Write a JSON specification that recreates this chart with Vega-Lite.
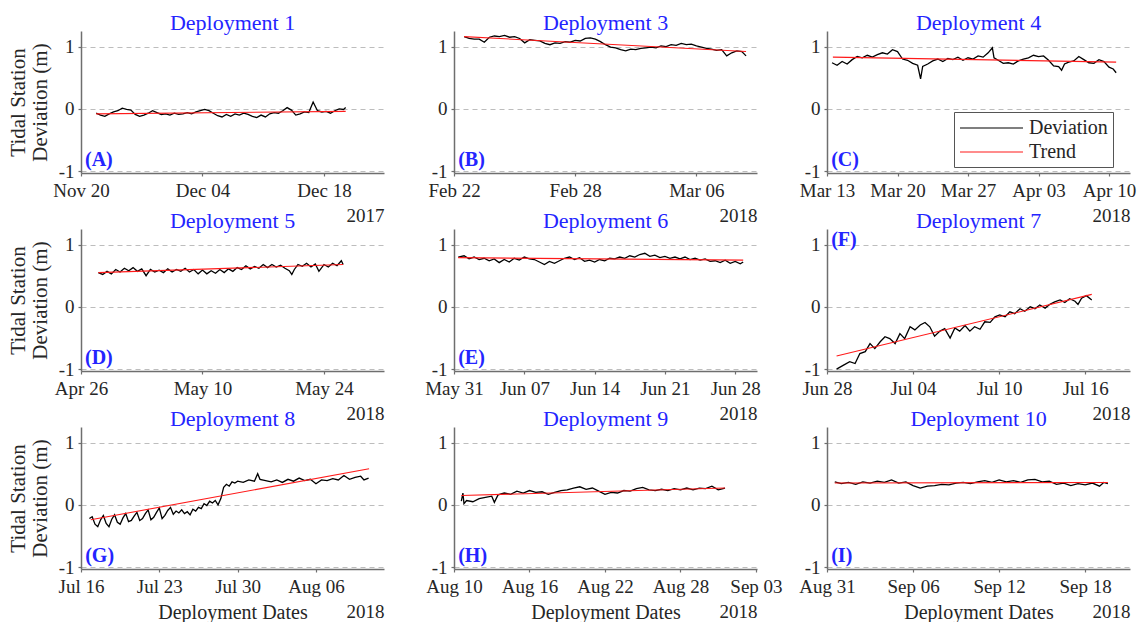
{
"$schema":"https://vega.github.io/schema/vega-lite/v6.json",
"padding":{"left":7,"top":12,"right":5,"bottom":5},
"config":{
 "view":{"stroke":null},
 "font":"Liberation Serif",
 "title":{"font":"Liberation Serif","fontSize":22,"fontWeight":"normal","color":"#2424ff","offset":-4,"baseline":"alphabetic","frame":"group","anchor":"middle"},
 "axis":{"labelFont":"Liberation Serif","labelFontSize":19,"labelColor":"#262626","titleFont":"Liberation Serif","titleFontWeight":"normal","titleColor":"#262626","domainColor":"#6e6e6e","domainWidth":1.5,"tickColor":"#6e6e6e","tickSize":3,"tickWidth":1.2},
 "axisX":{"grid":false,"labelFlush":false,"labelOverlap":false,"labelPadding":5,"titleFontSize":19,"titleAnchor":"end","titlePadding":6},
 "axisY":{"grid":true,"gridDash":[5,4],"gridColor":"#bdbdbd","gridWidth":1,"labelPadding":4,"titleFontSize":21,"titleLineHeight":22,"titlePadding":8},
 "legend":{"labelFont":"Liberation Serif","labelFontSize":20,"labelColor":"#262626","strokeColor":"#555555","fillColor":"white","padding":5,"rowPadding":3,"symbolType":"M-1,0L5.3,0","symbolSize":400,"symbolStrokeWidth":1.2,"labelOffset":48},
 "line":{"strokeWidth":1.1},
 "text":{"font":"Liberation Serif","fontSize":20,"fontWeight":"bold","color":"#2424ff","align":"left","baseline":"middle"}
},
"datasets":{
"labels":[{"p":1,"label":"(A)"},{"p":2,"label":"(B)"},{"p":3,"label":"(C)"},{"p":4,"label":"(D)"},{"p":5,"label":"(E)"},{"p":6,"label":"(F)"},{"p":7,"label":"(G)"},{"p":8,"label":"(H)"},{"p":9,"label":"(I)"}],
"trend":[
{"p":1,"t":"2017-11-21T18:00","v":-0.08},{"p":1,"t":"2017-12-20T12:00","v":-0.04},
{"p":2,"t":"2018-02-22T12:00","v":1.16},{"p":2,"t":"2018-03-08T11:00","v":0.92},
{"p":3,"t":"2018-03-13T14:00","v":0.83},{"p":3,"t":"2018-04-10T17:00","v":0.75},
{"p":4,"t":"2018-04-28T00:00","v":0.55},{"p":4,"t":"2018-05-26T05:00","v":0.68},
{"p":5,"t":"2018-05-31T10:00","v":0.79},{"p":5,"t":"2018-06-28T19:00","v":0.75},
{"p":6,"t":"2018-06-28T16:00","v":-0.79},{"p":6,"t":"2018-07-16T11:00","v":0.20},
{"p":7,"t":"2018-07-16T21:00","v":-0.24},{"p":7,"t":"2018-08-10T18:00","v":0.58},
{"p":8,"t":"2018-08-10T14:00","v":0.15},{"p":8,"t":"2018-08-31T13:00","v":0.27},
{"p":9,"t":"2018-08-31T13:00","v":0.35},{"p":9,"t":"2018-09-19T14:00","v":0.36}
],
"dev":[
{"p":1,"t":"2017-11-21T18:00","v":-0.07},{"p":1,"t":"2017-11-22T06:00","v":-0.10},{"p":1,"t":"2017-11-22T18:00","v":-0.12},{"p":1,"t":"2017-11-23T06:00","v":-0.08},{"p":1,"t":"2017-11-23T18:00","v":-0.05},{"p":1,"t":"2017-11-24T06:00","v":-0.03},{"p":1,"t":"2017-11-24T18:00","v":0.01},{"p":1,"t":"2017-11-25T06:00","v":-0.01},{"p":1,"t":"2017-11-25T18:00","v":-0.02},{"p":1,"t":"2017-11-26T06:00","v":-0.09},{"p":1,"t":"2017-11-26T18:00","v":-0.12},{"p":1,"t":"2017-11-27T06:00","v":-0.10},{"p":1,"t":"2017-11-27T18:00","v":-0.07},{"p":1,"t":"2017-11-28T06:00","v":-0.03},{"p":1,"t":"2017-11-28T18:00","v":-0.06},{"p":1,"t":"2017-11-29T06:00","v":-0.09},{"p":1,"t":"2017-11-29T18:00","v":-0.08},{"p":1,"t":"2017-11-30T06:00","v":-0.10},{"p":1,"t":"2017-11-30T18:00","v":-0.07},{"p":1,"t":"2017-12-01T06:00","v":-0.09},{"p":1,"t":"2017-12-01T18:00","v":-0.08},{"p":1,"t":"2017-12-02T06:00","v":-0.06},{"p":1,"t":"2017-12-02T18:00","v":-0.08},{"p":1,"t":"2017-12-03T06:00","v":-0.05},{"p":1,"t":"2017-12-03T18:00","v":-0.03},{"p":1,"t":"2017-12-04T06:00","v":-0.01},{"p":1,"t":"2017-12-04T18:00","v":-0.03},{"p":1,"t":"2017-12-05T06:00","v":-0.07},{"p":1,"t":"2017-12-05T18:00","v":-0.11},{"p":1,"t":"2017-12-06T06:00","v":-0.13},{"p":1,"t":"2017-12-06T18:00","v":-0.09},{"p":1,"t":"2017-12-07T06:00","v":-0.12},{"p":1,"t":"2017-12-07T18:00","v":-0.08},{"p":1,"t":"2017-12-08T06:00","v":-0.10},{"p":1,"t":"2017-12-08T18:00","v":-0.07},{"p":1,"t":"2017-12-09T06:00","v":-0.09},{"p":1,"t":"2017-12-09T18:00","v":-0.12},{"p":1,"t":"2017-12-10T06:00","v":-0.14},{"p":1,"t":"2017-12-10T18:00","v":-0.10},{"p":1,"t":"2017-12-11T06:00","v":-0.13},{"p":1,"t":"2017-12-11T18:00","v":-0.08},{"p":1,"t":"2017-12-12T06:00","v":-0.06},{"p":1,"t":"2017-12-12T18:00","v":-0.07},{"p":1,"t":"2017-12-13T06:00","v":-0.03},{"p":1,"t":"2017-12-13T18:00","v":0.02},{"p":1,"t":"2017-12-14T06:00","v":-0.02},{"p":1,"t":"2017-12-14T18:00","v":-0.10},{"p":1,"t":"2017-12-15T06:00","v":-0.08},{"p":1,"t":"2017-12-15T18:00","v":-0.05},{"p":1,"t":"2017-12-16T06:00","v":-0.06},{"p":1,"t":"2017-12-16T18:00","v":0.11},{"p":1,"t":"2017-12-17T06:00","v":-0.03},{"p":1,"t":"2017-12-17T18:00","v":-0.05},{"p":1,"t":"2017-12-18T06:00","v":-0.04},{"p":1,"t":"2017-12-18T18:00","v":-0.07},{"p":1,"t":"2017-12-19T06:00","v":-0.03},{"p":1,"t":"2017-12-19T18:00","v":0.00},{"p":1,"t":"2017-12-20T06:00","v":-0.01},{"p":1,"t":"2017-12-20T12:00","v":0.02},
{"p":2,"t":"2018-02-22T12:00","v":1.16},{"p":2,"t":"2018-02-22T18:00","v":1.13},{"p":2,"t":"2018-02-23T00:00","v":1.12},{"p":2,"t":"2018-02-23T06:00","v":1.12},{"p":2,"t":"2018-02-23T12:00","v":1.07},{"p":2,"t":"2018-02-23T18:00","v":1.15},{"p":2,"t":"2018-02-24T00:00","v":1.17},{"p":2,"t":"2018-02-24T06:00","v":1.16},{"p":2,"t":"2018-02-24T12:00","v":1.18},{"p":2,"t":"2018-02-24T18:00","v":1.15},{"p":2,"t":"2018-02-25T00:00","v":1.16},{"p":2,"t":"2018-02-25T06:00","v":1.13},{"p":2,"t":"2018-02-25T12:00","v":1.06},{"p":2,"t":"2018-02-25T18:00","v":1.11},{"p":2,"t":"2018-02-26T00:00","v":1.10},{"p":2,"t":"2018-02-26T06:00","v":1.09},{"p":2,"t":"2018-02-26T12:00","v":1.05},{"p":2,"t":"2018-02-26T18:00","v":1.03},{"p":2,"t":"2018-02-27T00:00","v":1.06},{"p":2,"t":"2018-02-27T06:00","v":1.05},{"p":2,"t":"2018-02-27T12:00","v":1.08},{"p":2,"t":"2018-02-27T18:00","v":1.07},{"p":2,"t":"2018-02-28T00:00","v":1.10},{"p":2,"t":"2018-02-28T06:00","v":1.09},{"p":2,"t":"2018-02-28T12:00","v":1.13},{"p":2,"t":"2018-02-28T18:00","v":1.14},{"p":2,"t":"2018-03-01T00:00","v":1.12},{"p":2,"t":"2018-03-01T06:00","v":1.08},{"p":2,"t":"2018-03-01T12:00","v":1.03},{"p":2,"t":"2018-03-01T18:00","v":0.99},{"p":2,"t":"2018-03-02T00:00","v":0.98},{"p":2,"t":"2018-03-02T06:00","v":0.95},{"p":2,"t":"2018-03-02T12:00","v":0.93},{"p":2,"t":"2018-03-02T18:00","v":0.96},{"p":2,"t":"2018-03-03T00:00","v":0.95},{"p":2,"t":"2018-03-03T06:00","v":0.97},{"p":2,"t":"2018-03-03T12:00","v":0.98},{"p":2,"t":"2018-03-03T18:00","v":0.99},{"p":2,"t":"2018-03-04T00:00","v":0.98},{"p":2,"t":"2018-03-04T06:00","v":1.01},{"p":2,"t":"2018-03-04T12:00","v":1.00},{"p":2,"t":"2018-03-04T18:00","v":1.03},{"p":2,"t":"2018-03-05T00:00","v":1.02},{"p":2,"t":"2018-03-05T06:00","v":1.05},{"p":2,"t":"2018-03-05T12:00","v":1.03},{"p":2,"t":"2018-03-05T18:00","v":1.04},{"p":2,"t":"2018-03-06T00:00","v":1.01},{"p":2,"t":"2018-03-06T06:00","v":0.99},{"p":2,"t":"2018-03-06T12:00","v":0.97},{"p":2,"t":"2018-03-06T18:00","v":0.96},{"p":2,"t":"2018-03-07T00:00","v":0.94},{"p":2,"t":"2018-03-07T06:00","v":0.95},{"p":2,"t":"2018-03-07T12:00","v":0.85},{"p":2,"t":"2018-03-07T18:00","v":0.90},{"p":2,"t":"2018-03-08T00:00","v":0.93},{"p":2,"t":"2018-03-08T06:00","v":0.92},{"p":2,"t":"2018-03-08T11:00","v":0.85},
{"p":3,"t":"2018-03-13T12:00","v":0.74},{"p":3,"t":"2018-03-14T00:00","v":0.70},{"p":3,"t":"2018-03-14T12:00","v":0.76},{"p":3,"t":"2018-03-15T00:00","v":0.72},{"p":3,"t":"2018-03-15T12:00","v":0.79},{"p":3,"t":"2018-03-16T00:00","v":0.84},{"p":3,"t":"2018-03-16T12:00","v":0.82},{"p":3,"t":"2018-03-17T00:00","v":0.86},{"p":3,"t":"2018-03-17T12:00","v":0.83},{"p":3,"t":"2018-03-18T00:00","v":0.87},{"p":3,"t":"2018-03-18T12:00","v":0.90},{"p":3,"t":"2018-03-19T00:00","v":0.88},{"p":3,"t":"2018-03-19T12:00","v":0.95},{"p":3,"t":"2018-03-20T00:00","v":0.92},{"p":3,"t":"2018-03-20T12:00","v":0.80},{"p":3,"t":"2018-03-21T00:00","v":0.78},{"p":3,"t":"2018-03-21T12:00","v":0.73},{"p":3,"t":"2018-03-22T00:00","v":0.70},{"p":3,"t":"2018-03-22T07:00","v":0.48},{"p":3,"t":"2018-03-22T12:00","v":0.68},{"p":3,"t":"2018-03-23T00:00","v":0.72},{"p":3,"t":"2018-03-23T12:00","v":0.77},{"p":3,"t":"2018-03-24T00:00","v":0.80},{"p":3,"t":"2018-03-24T12:00","v":0.76},{"p":3,"t":"2018-03-25T00:00","v":0.81},{"p":3,"t":"2018-03-25T12:00","v":0.79},{"p":3,"t":"2018-03-26T00:00","v":0.83},{"p":3,"t":"2018-03-26T12:00","v":0.78},{"p":3,"t":"2018-03-27T00:00","v":0.82},{"p":3,"t":"2018-03-27T12:00","v":0.80},{"p":3,"t":"2018-03-28T00:00","v":0.85},{"p":3,"t":"2018-03-28T12:00","v":0.83},{"p":3,"t":"2018-03-29T00:00","v":0.90},{"p":3,"t":"2018-03-29T10:00","v":0.98},{"p":3,"t":"2018-03-29T14:00","v":0.82},{"p":3,"t":"2018-03-30T00:00","v":0.78},{"p":3,"t":"2018-03-30T12:00","v":0.73},{"p":3,"t":"2018-03-31T00:00","v":0.74},{"p":3,"t":"2018-03-31T12:00","v":0.72},{"p":3,"t":"2018-04-01T00:00","v":0.77},{"p":3,"t":"2018-04-01T12:00","v":0.80},{"p":3,"t":"2018-04-02T00:00","v":0.82},{"p":3,"t":"2018-04-02T12:00","v":0.86},{"p":3,"t":"2018-04-03T00:00","v":0.84},{"p":3,"t":"2018-04-03T12:00","v":0.85},{"p":3,"t":"2018-04-04T00:00","v":0.78},{"p":3,"t":"2018-04-04T12:00","v":0.69},{"p":3,"t":"2018-04-05T00:00","v":0.68},{"p":3,"t":"2018-04-05T07:00","v":0.62},{"p":3,"t":"2018-04-05T14:00","v":0.72},{"p":3,"t":"2018-04-06T00:00","v":0.75},{"p":3,"t":"2018-04-06T12:00","v":0.77},{"p":3,"t":"2018-04-07T00:00","v":0.84},{"p":3,"t":"2018-04-07T12:00","v":0.79},{"p":3,"t":"2018-04-08T00:00","v":0.74},{"p":3,"t":"2018-04-08T12:00","v":0.73},{"p":3,"t":"2018-04-09T00:00","v":0.79},{"p":3,"t":"2018-04-09T12:00","v":0.76},{"p":3,"t":"2018-04-10T00:00","v":0.67},{"p":3,"t":"2018-04-10T10:00","v":0.64},{"p":3,"t":"2018-04-10T17:00","v":0.58},
{"p":4,"t":"2018-04-28T00:00","v":0.55},{"p":4,"t":"2018-04-28T12:00","v":0.52},{"p":4,"t":"2018-04-29T00:00","v":0.57},{"p":4,"t":"2018-04-29T12:00","v":0.53},{"p":4,"t":"2018-04-30T00:00","v":0.60},{"p":4,"t":"2018-04-30T12:00","v":0.56},{"p":4,"t":"2018-05-01T00:00","v":0.62},{"p":4,"t":"2018-05-01T12:00","v":0.58},{"p":4,"t":"2018-05-02T00:00","v":0.63},{"p":4,"t":"2018-05-02T12:00","v":0.57},{"p":4,"t":"2018-05-03T00:00","v":0.61},{"p":4,"t":"2018-05-03T12:00","v":0.50},{"p":4,"t":"2018-05-04T00:00","v":0.60},{"p":4,"t":"2018-05-04T12:00","v":0.56},{"p":4,"t":"2018-05-05T00:00","v":0.59},{"p":4,"t":"2018-05-05T12:00","v":0.55},{"p":4,"t":"2018-05-06T00:00","v":0.61},{"p":4,"t":"2018-05-06T12:00","v":0.56},{"p":4,"t":"2018-05-07T00:00","v":0.60},{"p":4,"t":"2018-05-07T12:00","v":0.57},{"p":4,"t":"2018-05-08T00:00","v":0.62},{"p":4,"t":"2018-05-08T12:00","v":0.56},{"p":4,"t":"2018-05-09T00:00","v":0.60},{"p":4,"t":"2018-05-09T12:00","v":0.53},{"p":4,"t":"2018-05-10T00:00","v":0.59},{"p":4,"t":"2018-05-10T12:00","v":0.53},{"p":4,"t":"2018-05-11T00:00","v":0.58},{"p":4,"t":"2018-05-11T12:00","v":0.54},{"p":4,"t":"2018-05-12T00:00","v":0.60},{"p":4,"t":"2018-05-12T12:00","v":0.55},{"p":4,"t":"2018-05-13T00:00","v":0.61},{"p":4,"t":"2018-05-13T12:00","v":0.57},{"p":4,"t":"2018-05-14T00:00","v":0.63},{"p":4,"t":"2018-05-14T12:00","v":0.60},{"p":4,"t":"2018-05-15T00:00","v":0.66},{"p":4,"t":"2018-05-15T12:00","v":0.61},{"p":4,"t":"2018-05-16T00:00","v":0.65},{"p":4,"t":"2018-05-16T12:00","v":0.62},{"p":4,"t":"2018-05-17T00:00","v":0.68},{"p":4,"t":"2018-05-17T12:00","v":0.63},{"p":4,"t":"2018-05-18T00:00","v":0.68},{"p":4,"t":"2018-05-18T12:00","v":0.64},{"p":4,"t":"2018-05-19T00:00","v":0.67},{"p":4,"t":"2018-05-19T12:00","v":0.62},{"p":4,"t":"2018-05-20T00:00","v":0.58},{"p":4,"t":"2018-05-20T07:00","v":0.52},{"p":4,"t":"2018-05-20T14:00","v":0.60},{"p":4,"t":"2018-05-21T00:00","v":0.68},{"p":4,"t":"2018-05-21T12:00","v":0.65},{"p":4,"t":"2018-05-22T00:00","v":0.70},{"p":4,"t":"2018-05-22T12:00","v":0.64},{"p":4,"t":"2018-05-23T00:00","v":0.69},{"p":4,"t":"2018-05-23T10:00","v":0.57},{"p":4,"t":"2018-05-24T00:00","v":0.68},{"p":4,"t":"2018-05-24T12:00","v":0.64},{"p":4,"t":"2018-05-25T00:00","v":0.70},{"p":4,"t":"2018-05-25T12:00","v":0.66},{"p":4,"t":"2018-05-26T00:00","v":0.74},{"p":4,"t":"2018-05-26T05:00","v":0.68},
{"p":5,"t":"2018-05-31T10:00","v":0.80},{"p":5,"t":"2018-06-01T00:00","v":0.82},{"p":5,"t":"2018-06-01T12:00","v":0.77},{"p":5,"t":"2018-06-02T00:00","v":0.80},{"p":5,"t":"2018-06-02T12:00","v":0.76},{"p":5,"t":"2018-06-03T00:00","v":0.78},{"p":5,"t":"2018-06-03T12:00","v":0.74},{"p":5,"t":"2018-06-04T00:00","v":0.77},{"p":5,"t":"2018-06-04T12:00","v":0.71},{"p":5,"t":"2018-06-05T00:00","v":0.76},{"p":5,"t":"2018-06-05T12:00","v":0.72},{"p":5,"t":"2018-06-06T00:00","v":0.78},{"p":5,"t":"2018-06-06T12:00","v":0.75},{"p":5,"t":"2018-06-07T00:00","v":0.80},{"p":5,"t":"2018-06-07T12:00","v":0.77},{"p":5,"t":"2018-06-08T00:00","v":0.76},{"p":5,"t":"2018-06-08T12:00","v":0.72},{"p":5,"t":"2018-06-09T00:00","v":0.68},{"p":5,"t":"2018-06-09T12:00","v":0.73},{"p":5,"t":"2018-06-10T00:00","v":0.70},{"p":5,"t":"2018-06-10T12:00","v":0.74},{"p":5,"t":"2018-06-11T00:00","v":0.78},{"p":5,"t":"2018-06-11T12:00","v":0.80},{"p":5,"t":"2018-06-12T00:00","v":0.76},{"p":5,"t":"2018-06-12T12:00","v":0.79},{"p":5,"t":"2018-06-13T00:00","v":0.73},{"p":5,"t":"2018-06-13T12:00","v":0.75},{"p":5,"t":"2018-06-14T00:00","v":0.72},{"p":5,"t":"2018-06-14T12:00","v":0.76},{"p":5,"t":"2018-06-15T00:00","v":0.74},{"p":5,"t":"2018-06-15T12:00","v":0.78},{"p":5,"t":"2018-06-16T00:00","v":0.77},{"p":5,"t":"2018-06-16T12:00","v":0.80},{"p":5,"t":"2018-06-17T00:00","v":0.78},{"p":5,"t":"2018-06-17T12:00","v":0.82},{"p":5,"t":"2018-06-18T00:00","v":0.80},{"p":5,"t":"2018-06-18T12:00","v":0.84},{"p":5,"t":"2018-06-19T00:00","v":0.86},{"p":5,"t":"2018-06-19T12:00","v":0.81},{"p":5,"t":"2018-06-20T00:00","v":0.83},{"p":5,"t":"2018-06-20T12:00","v":0.79},{"p":5,"t":"2018-06-21T00:00","v":0.81},{"p":5,"t":"2018-06-21T12:00","v":0.78},{"p":5,"t":"2018-06-22T00:00","v":0.80},{"p":5,"t":"2018-06-22T12:00","v":0.77},{"p":5,"t":"2018-06-23T00:00","v":0.80},{"p":5,"t":"2018-06-23T12:00","v":0.76},{"p":5,"t":"2018-06-24T00:00","v":0.78},{"p":5,"t":"2018-06-24T12:00","v":0.75},{"p":5,"t":"2018-06-25T00:00","v":0.77},{"p":5,"t":"2018-06-25T12:00","v":0.73},{"p":5,"t":"2018-06-26T00:00","v":0.74},{"p":5,"t":"2018-06-26T12:00","v":0.71},{"p":5,"t":"2018-06-27T00:00","v":0.75},{"p":5,"t":"2018-06-27T12:00","v":0.70},{"p":5,"t":"2018-06-28T00:00","v":0.73},{"p":5,"t":"2018-06-28T12:00","v":0.69},{"p":5,"t":"2018-06-28T19:00","v":0.72},
{"p":6,"t":"2018-06-28T16:00","v":-1.0},{"p":6,"t":"2018-06-29T03:00","v":-0.94},{"p":6,"t":"2018-06-29T14:00","v":-0.88},{"p":6,"t":"2018-06-29T23:00","v":-0.91},{"p":6,"t":"2018-06-30T07:00","v":-0.75},{"p":6,"t":"2018-06-30T16:00","v":-0.72},{"p":6,"t":"2018-07-01T00:00","v":-0.59},{"p":6,"t":"2018-07-01T08:00","v":-0.67},{"p":6,"t":"2018-07-01T17:00","v":-0.56},{"p":6,"t":"2018-07-02T01:00","v":-0.48},{"p":6,"t":"2018-07-02T09:00","v":-0.51},{"p":6,"t":"2018-07-02T18:00","v":-0.59},{"p":6,"t":"2018-07-03T02:00","v":-0.43},{"p":6,"t":"2018-07-03T10:00","v":-0.51},{"p":6,"t":"2018-07-03T19:00","v":-0.32},{"p":6,"t":"2018-07-04T03:00","v":-0.37},{"p":6,"t":"2018-07-04T12:00","v":-0.29},{"p":6,"t":"2018-07-04T20:00","v":-0.25},{"p":6,"t":"2018-07-05T04:00","v":-0.32},{"p":6,"t":"2018-07-05T12:00","v":-0.47},{"p":6,"t":"2018-07-05T21:00","v":-0.39},{"p":6,"t":"2018-07-06T05:00","v":-0.35},{"p":6,"t":"2018-07-06T14:00","v":-0.50},{"p":6,"t":"2018-07-06T22:00","v":-0.34},{"p":6,"t":"2018-07-07T06:00","v":-0.39},{"p":6,"t":"2018-07-07T15:00","v":-0.30},{"p":6,"t":"2018-07-07T23:00","v":-0.39},{"p":6,"t":"2018-07-08T07:00","v":-0.32},{"p":6,"t":"2018-07-08T16:00","v":-0.36},{"p":6,"t":"2018-07-09T00:00","v":-0.24},{"p":6,"t":"2018-07-09T09:00","v":-0.25},{"p":6,"t":"2018-07-09T17:00","v":-0.16},{"p":6,"t":"2018-07-10T01:00","v":-0.13},{"p":6,"t":"2018-07-10T10:00","v":-0.16},{"p":6,"t":"2018-07-10T18:00","v":-0.08},{"p":6,"t":"2018-07-11T02:00","v":-0.11},{"p":6,"t":"2018-07-11T11:00","v":-0.03},{"p":6,"t":"2018-07-11T19:00","v":-0.07},{"p":6,"t":"2018-07-12T04:00","v":0.0},{"p":6,"t":"2018-07-12T12:00","v":-0.03},{"p":6,"t":"2018-07-12T20:00","v":0.03},{"p":6,"t":"2018-07-13T05:00","v":-0.02},{"p":6,"t":"2018-07-13T13:00","v":0.04},{"p":6,"t":"2018-07-13T21:00","v":0.08},{"p":6,"t":"2018-07-14T06:00","v":0.11},{"p":6,"t":"2018-07-14T14:00","v":0.07},{"p":6,"t":"2018-07-14T22:00","v":0.13},{"p":6,"t":"2018-07-15T07:00","v":0.09},{"p":6,"t":"2018-07-15T12:00","v":0.04},{"p":6,"t":"2018-07-15T18:00","v":0.14},{"p":6,"t":"2018-07-16T02:00","v":0.18},{"p":6,"t":"2018-07-16T11:00","v":0.11},
{"p":7,"t":"2018-07-16T18:00","v":-0.22},{"p":7,"t":"2018-07-17T00:00","v":-0.19},{"p":7,"t":"2018-07-17T06:00","v":-0.31},{"p":7,"t":"2018-07-17T12:00","v":-0.35},{"p":7,"t":"2018-07-17T18:00","v":-0.24},{"p":7,"t":"2018-07-18T00:00","v":-0.17},{"p":7,"t":"2018-07-18T06:00","v":-0.30},{"p":7,"t":"2018-07-18T12:00","v":-0.35},{"p":7,"t":"2018-07-18T18:00","v":-0.23},{"p":7,"t":"2018-07-19T00:00","v":-0.16},{"p":7,"t":"2018-07-19T06:00","v":-0.28},{"p":7,"t":"2018-07-19T12:00","v":-0.31},{"p":7,"t":"2018-07-19T18:00","v":-0.21},{"p":7,"t":"2018-07-20T00:00","v":-0.14},{"p":7,"t":"2018-07-20T06:00","v":-0.27},{"p":7,"t":"2018-07-20T12:00","v":-0.25},{"p":7,"t":"2018-07-20T18:00","v":-0.18},{"p":7,"t":"2018-07-21T00:00","v":-0.12},{"p":7,"t":"2018-07-21T06:00","v":-0.25},{"p":7,"t":"2018-07-21T12:00","v":-0.22},{"p":7,"t":"2018-07-21T18:00","v":-0.14},{"p":7,"t":"2018-07-22T00:00","v":-0.08},{"p":7,"t":"2018-07-22T06:00","v":-0.24},{"p":7,"t":"2018-07-22T12:00","v":-0.20},{"p":7,"t":"2018-07-22T18:00","v":-0.12},{"p":7,"t":"2018-07-23T00:00","v":-0.05},{"p":7,"t":"2018-07-23T06:00","v":-0.22},{"p":7,"t":"2018-07-23T12:00","v":-0.17},{"p":7,"t":"2018-07-23T18:00","v":-0.09},{"p":7,"t":"2018-07-24T00:00","v":-0.04},{"p":7,"t":"2018-07-24T06:00","v":-0.15},{"p":7,"t":"2018-07-24T12:00","v":-0.10},{"p":7,"t":"2018-07-24T18:00","v":-0.13},{"p":7,"t":"2018-07-25T00:00","v":-0.08},{"p":7,"t":"2018-07-25T06:00","v":-0.14},{"p":7,"t":"2018-07-25T12:00","v":-0.11},{"p":7,"t":"2018-07-25T18:00","v":-0.16},{"p":7,"t":"2018-07-26T00:00","v":-0.07},{"p":7,"t":"2018-07-26T06:00","v":-0.10},{"p":7,"t":"2018-07-26T12:00","v":-0.04},{"p":7,"t":"2018-07-26T18:00","v":-0.06},{"p":7,"t":"2018-07-27T00:00","v":0.02},{"p":7,"t":"2018-07-27T06:00","v":-0.01},{"p":7,"t":"2018-07-27T12:00","v":0.06},{"p":7,"t":"2018-07-27T18:00","v":0.03},{"p":7,"t":"2018-07-28T00:00","v":0.07},{"p":7,"t":"2018-07-28T06:00","v":0.00},{"p":7,"t":"2018-07-28T12:00","v":0.10},{"p":7,"t":"2018-07-28T18:00","v":0.28},{"p":7,"t":"2018-07-29T00:00","v":0.33},{"p":7,"t":"2018-07-29T06:00","v":0.30},{"p":7,"t":"2018-07-29T12:00","v":0.37},{"p":7,"t":"2018-07-29T18:00","v":0.35},{"p":7,"t":"2018-07-30T00:00","v":0.38},{"p":7,"t":"2018-07-30T12:00","v":0.36},{"p":7,"t":"2018-07-31T00:00","v":0.40},{"p":7,"t":"2018-07-31T12:00","v":0.38},{"p":7,"t":"2018-07-31T19:00","v":0.50},{"p":7,"t":"2018-08-01T00:00","v":0.41},{"p":7,"t":"2018-08-01T12:00","v":0.39},{"p":7,"t":"2018-08-02T00:00","v":0.37},{"p":7,"t":"2018-08-02T12:00","v":0.40},{"p":7,"t":"2018-08-03T00:00","v":0.36},{"p":7,"t":"2018-08-03T12:00","v":0.41},{"p":7,"t":"2018-08-04T00:00","v":0.38},{"p":7,"t":"2018-08-04T12:00","v":0.43},{"p":7,"t":"2018-08-05T00:00","v":0.39},{"p":7,"t":"2018-08-05T12:00","v":0.41},{"p":7,"t":"2018-08-06T00:00","v":0.34},{"p":7,"t":"2018-08-06T12:00","v":0.40},{"p":7,"t":"2018-08-07T00:00","v":0.39},{"p":7,"t":"2018-08-07T12:00","v":0.42},{"p":7,"t":"2018-08-08T00:00","v":0.40},{"p":7,"t":"2018-08-08T12:00","v":0.47},{"p":7,"t":"2018-08-09T00:00","v":0.41},{"p":7,"t":"2018-08-09T12:00","v":0.44},{"p":7,"t":"2018-08-10T00:00","v":0.46},{"p":7,"t":"2018-08-10T07:00","v":0.40},{"p":7,"t":"2018-08-10T17:00","v":0.43},
{"p":8,"t":"2018-08-10T14:00","v":0.06},{"p":8,"t":"2018-08-10T17:00","v":0.19},{"p":8,"t":"2018-08-10T19:00","v":0.02},{"p":8,"t":"2018-08-11T00:00","v":0.07},{"p":8,"t":"2018-08-11T12:00","v":0.05},{"p":8,"t":"2018-08-12T00:00","v":0.10},{"p":8,"t":"2018-08-12T12:00","v":0.12},{"p":8,"t":"2018-08-13T00:00","v":0.14},{"p":8,"t":"2018-08-13T05:00","v":0.04},{"p":8,"t":"2018-08-13T12:00","v":0.16},{"p":8,"t":"2018-08-14T00:00","v":0.19},{"p":8,"t":"2018-08-14T12:00","v":0.17},{"p":8,"t":"2018-08-15T00:00","v":0.22},{"p":8,"t":"2018-08-15T12:00","v":0.19},{"p":8,"t":"2018-08-16T00:00","v":0.23},{"p":8,"t":"2018-08-16T12:00","v":0.20},{"p":8,"t":"2018-08-17T00:00","v":0.21},{"p":8,"t":"2018-08-17T12:00","v":0.17},{"p":8,"t":"2018-08-18T00:00","v":0.20},{"p":8,"t":"2018-08-18T12:00","v":0.23},{"p":8,"t":"2018-08-19T00:00","v":0.24},{"p":8,"t":"2018-08-19T12:00","v":0.27},{"p":8,"t":"2018-08-20T00:00","v":0.29},{"p":8,"t":"2018-08-20T12:00","v":0.25},{"p":8,"t":"2018-08-21T00:00","v":0.27},{"p":8,"t":"2018-08-21T12:00","v":0.22},{"p":8,"t":"2018-08-22T00:00","v":0.17},{"p":8,"t":"2018-08-22T12:00","v":0.20},{"p":8,"t":"2018-08-23T00:00","v":0.19},{"p":8,"t":"2018-08-23T12:00","v":0.23},{"p":8,"t":"2018-08-24T00:00","v":0.22},{"p":8,"t":"2018-08-24T12:00","v":0.26},{"p":8,"t":"2018-08-25T00:00","v":0.28},{"p":8,"t":"2018-08-25T12:00","v":0.24},{"p":8,"t":"2018-08-26T00:00","v":0.23},{"p":8,"t":"2018-08-26T12:00","v":0.25},{"p":8,"t":"2018-08-27T00:00","v":0.23},{"p":8,"t":"2018-08-27T12:00","v":0.26},{"p":8,"t":"2018-08-28T00:00","v":0.24},{"p":8,"t":"2018-08-28T12:00","v":0.27},{"p":8,"t":"2018-08-29T00:00","v":0.24},{"p":8,"t":"2018-08-29T12:00","v":0.27},{"p":8,"t":"2018-08-30T00:00","v":0.26},{"p":8,"t":"2018-08-30T12:00","v":0.30},{"p":8,"t":"2018-08-31T00:00","v":0.24},{"p":8,"t":"2018-08-31T13:00","v":0.27},
{"p":9,"t":"2018-08-31T13:00","v":0.37},{"p":9,"t":"2018-09-01T00:00","v":0.34},{"p":9,"t":"2018-09-01T12:00","v":0.36},{"p":9,"t":"2018-09-02T00:00","v":0.33},{"p":9,"t":"2018-09-02T12:00","v":0.37},{"p":9,"t":"2018-09-03T00:00","v":0.35},{"p":9,"t":"2018-09-03T12:00","v":0.38},{"p":9,"t":"2018-09-04T00:00","v":0.36},{"p":9,"t":"2018-09-04T12:00","v":0.40},{"p":9,"t":"2018-09-05T00:00","v":0.35},{"p":9,"t":"2018-09-05T12:00","v":0.37},{"p":9,"t":"2018-09-06T00:00","v":0.31},{"p":9,"t":"2018-09-06T12:00","v":0.27},{"p":9,"t":"2018-09-07T00:00","v":0.30},{"p":9,"t":"2018-09-07T12:00","v":0.31},{"p":9,"t":"2018-09-08T00:00","v":0.33},{"p":9,"t":"2018-09-08T12:00","v":0.32},{"p":9,"t":"2018-09-09T00:00","v":0.35},{"p":9,"t":"2018-09-09T12:00","v":0.36},{"p":9,"t":"2018-09-10T00:00","v":0.34},{"p":9,"t":"2018-09-10T12:00","v":0.37},{"p":9,"t":"2018-09-11T00:00","v":0.39},{"p":9,"t":"2018-09-11T12:00","v":0.36},{"p":9,"t":"2018-09-12T00:00","v":0.40},{"p":9,"t":"2018-09-12T12:00","v":0.37},{"p":9,"t":"2018-09-13T00:00","v":0.39},{"p":9,"t":"2018-09-13T12:00","v":0.36},{"p":9,"t":"2018-09-14T00:00","v":0.40},{"p":9,"t":"2018-09-14T12:00","v":0.41},{"p":9,"t":"2018-09-15T00:00","v":0.37},{"p":9,"t":"2018-09-15T12:00","v":0.38},{"p":9,"t":"2018-09-16T00:00","v":0.33},{"p":9,"t":"2018-09-16T12:00","v":0.35},{"p":9,"t":"2018-09-17T00:00","v":0.31},{"p":9,"t":"2018-09-17T12:00","v":0.34},{"p":9,"t":"2018-09-18T00:00","v":0.32},{"p":9,"t":"2018-09-18T12:00","v":0.35},{"p":9,"t":"2018-09-19T00:00","v":0.30},{"p":9,"t":"2018-09-19T07:00","v":0.36},{"p":9,"t":"2018-09-19T14:00","v":0.34}
]},
"columns":3,
"spacing":{"row":56,"column":70},
"bounds":"flush",
"resolve":{"scale":{"color":"independent"},"legend":{"color":"independent"}},
"concat":[
{"width":303,"height":142,"title":"Deployment 1","layer":[
 {"data":{"name":"dev"},"transform":[{"filter":"datum.p==1"}],"mark":{"type":"line","color":"black","strokeWidth":1.3},"encoding":{
  "x":{"field":"t","type":"temporal","scale":{"nice":false,"domain":[{"year":2017,"month":11,"date":20},{"year":2017,"month":12,"date":24,"hours":22}]},"axis":{"values":[{"year":2017,"month":11,"date":20},{"year":2017,"month":12,"date":4},{"year":2017,"month":12,"date":18}],"format":"%b %d","title":"2017"}},
  "y":{"field":"v","type":"quantitative","scale":{"nice":false,"zero":false,"domain":[-1.03,1.25]},"axis":{"values":[-1,0,1],"labelExpr":"'' + datum.value","title":["Tidal Station","Deviation (m)"]}}}},
 {"data":{"name":"trend"},"transform":[{"filter":"datum.p==1"}],"mark":{"type":"line","color":"#ff1a1a"},"encoding":{"x":{"field":"t","type":"temporal"},"y":{"field":"v","type":"quantitative"}}},
 {"data":{"name":"labels"},"transform":[{"filter":"datum.p==1"}],"mark":{"type":"text"},"encoding":{"x":{"datum":{"year":2017,"month":11,"date":20,"hours":11},"type":"temporal"},"y":{"datum":-0.82,"type":"quantitative"},"text":{"field":"label"}}}
]},
{"width":303,"height":142,"title":"Deployment 3","layer":[
 {"data":{"name":"dev"},"transform":[{"filter":"datum.p==2"}],"mark":{"type":"line","color":"black","strokeWidth":1.3},"encoding":{
  "x":{"field":"t","type":"temporal","scale":{"nice":false,"domain":[{"year":2018,"month":2,"date":22},{"year":2018,"month":3,"date":9}]},"axis":{"values":[{"year":2018,"month":2,"date":22},{"year":2018,"month":2,"date":28},{"year":2018,"month":3,"date":6}],"format":"%b %d","title":"2018"}},
  "y":{"field":"v","type":"quantitative","scale":{"nice":false,"zero":false,"domain":[-1.03,1.25]},"axis":{"values":[-1,0,1],"labelExpr":"'' + datum.value","title":null}}}},
 {"data":{"name":"trend"},"transform":[{"filter":"datum.p==2"}],"mark":{"type":"line","color":"#ff1a1a"},"encoding":{"x":{"field":"t","type":"temporal"},"y":{"field":"v","type":"quantitative"}}},
 {"data":{"name":"labels"},"transform":[{"filter":"datum.p==2"}],"mark":{"type":"text"},"encoding":{"x":{"datum":{"year":2018,"month":2,"date":22,"hours":5},"type":"temporal"},"y":{"datum":-0.82,"type":"quantitative"},"text":{"field":"label"}}}
]},
{"width":303,"height":142,"title":"Deployment 4","layer":[
 {"data":{"name":"dev"},"transform":[{"filter":"datum.p==3"}],"mark":{"type":"line","strokeWidth":1.3},"encoding":{
  "x":{"field":"t","type":"temporal","scale":{"nice":false,"domain":[{"year":2018,"month":3,"date":13},{"year":2018,"month":4,"date":12,"hours":2}]},"axis":{"values":[{"year":2018,"month":3,"date":13},{"year":2018,"month":3,"date":20},{"year":2018,"month":3,"date":27},{"year":2018,"month":4,"date":3},{"year":2018,"month":4,"date":10}],"format":"%b %d","title":"2018"}},
  "y":{"field":"v","type":"quantitative","scale":{"nice":false,"zero":false,"domain":[-1.03,1.25]},"axis":{"values":[-1,0,1],"labelExpr":"'' + datum.value","title":null}},
  "color":{"datum":"Deviation","type":"nominal","scale":{"domain":["Deviation","Trend"],"range":["black","#ff1a1a"]},"legend":{"title":null,"orient":"none","legendX":127,"legendY":81}}}},
 {"data":{"name":"trend"},"transform":[{"filter":"datum.p==3"}],"mark":{"type":"line"},"encoding":{"x":{"field":"t","type":"temporal"},"y":{"field":"v","type":"quantitative"},"color":{"datum":"Trend","type":"nominal"}}},
 {"data":{"name":"labels"},"transform":[{"filter":"datum.p==3"}],"mark":{"type":"text"},"encoding":{"x":{"datum":{"year":2018,"month":3,"date":13,"hours":10},"type":"temporal"},"y":{"datum":-0.82,"type":"quantitative"},"text":{"field":"label"}}}
]},
{"width":303,"height":142,"title":"Deployment 5","layer":[
 {"data":{"name":"dev"},"transform":[{"filter":"datum.p==4"}],"mark":{"type":"line","color":"black","strokeWidth":1.3},"encoding":{
  "x":{"field":"t","type":"temporal","scale":{"nice":false,"domain":[{"year":2018,"month":4,"date":26},{"year":2018,"month":5,"date":30,"hours":22}]},"axis":{"values":[{"year":2018,"month":4,"date":26},{"year":2018,"month":5,"date":10},{"year":2018,"month":5,"date":24}],"format":"%b %d","title":"2018"}},
  "y":{"field":"v","type":"quantitative","scale":{"nice":false,"zero":false,"domain":[-1.03,1.25]},"axis":{"values":[-1,0,1],"labelExpr":"'' + datum.value","title":["Tidal Station","Deviation (m)"]}}}},
 {"data":{"name":"trend"},"transform":[{"filter":"datum.p==4"}],"mark":{"type":"line","color":"#ff1a1a"},"encoding":{"x":{"field":"t","type":"temporal"},"y":{"field":"v","type":"quantitative"}}},
 {"data":{"name":"labels"},"transform":[{"filter":"datum.p==4"}],"mark":{"type":"text"},"encoding":{"x":{"datum":{"year":2018,"month":4,"date":26,"hours":11},"type":"temporal"},"y":{"datum":-0.82,"type":"quantitative"},"text":{"field":"label"}}}
]},
{"width":303,"height":142,"title":"Deployment 6","layer":[
 {"data":{"name":"dev"},"transform":[{"filter":"datum.p==5"}],"mark":{"type":"line","color":"black","strokeWidth":1.3},"encoding":{
  "x":{"field":"t","type":"temporal","scale":{"nice":false,"domain":[{"year":2018,"month":5,"date":31},{"year":2018,"month":6,"date":30,"hours":4}]},"axis":{"values":[{"year":2018,"month":5,"date":31},{"year":2018,"month":6,"date":7},{"year":2018,"month":6,"date":14},{"year":2018,"month":6,"date":21},{"year":2018,"month":6,"date":28}],"format":"%b %d","title":"2018"}},
  "y":{"field":"v","type":"quantitative","scale":{"nice":false,"zero":false,"domain":[-1.03,1.25]},"axis":{"values":[-1,0,1],"labelExpr":"'' + datum.value","title":null}}}},
 {"data":{"name":"trend"},"transform":[{"filter":"datum.p==5"}],"mark":{"type":"line","color":"#ff1a1a"},"encoding":{"x":{"field":"t","type":"temporal"},"y":{"field":"v","type":"quantitative"}}},
 {"data":{"name":"labels"},"transform":[{"filter":"datum.p==5"}],"mark":{"type":"text"},"encoding":{"x":{"datum":{"year":2018,"month":5,"date":31,"hours":10},"type":"temporal"},"y":{"datum":-0.82,"type":"quantitative"},"text":{"field":"label"}}}
]},
{"width":303,"height":142,"title":"Deployment 7","layer":[
 {"data":{"name":"dev"},"transform":[{"filter":"datum.p==6"}],"mark":{"type":"line","color":"black","strokeWidth":1.3},"encoding":{
  "x":{"field":"t","type":"temporal","scale":{"nice":false,"domain":[{"year":2018,"month":6,"date":28},{"year":2018,"month":7,"date":19,"hours":3}]},"axis":{"values":[{"year":2018,"month":6,"date":28},{"year":2018,"month":7,"date":4},{"year":2018,"month":7,"date":10},{"year":2018,"month":7,"date":16}],"format":"%b %d","title":"2018"}},
  "y":{"field":"v","type":"quantitative","scale":{"nice":false,"zero":false,"domain":[-1.03,1.25]},"axis":{"values":[-1,0,1],"labelExpr":"'' + datum.value","title":null}}}},
 {"data":{"name":"trend"},"transform":[{"filter":"datum.p==6"}],"mark":{"type":"line","color":"#ff1a1a"},"encoding":{"x":{"field":"t","type":"temporal"},"y":{"field":"v","type":"quantitative"}}},
 {"data":{"name":"labels"},"transform":[{"filter":"datum.p==6"}],"mark":{"type":"text"},"encoding":{"x":{"datum":{"year":2018,"month":6,"date":28,"hours":7},"type":"temporal"},"y":{"datum":1.07,"type":"quantitative"},"text":{"field":"label"}}}
]},
{"width":303,"height":142,"title":"Deployment 8","resolve":{"axis":{"x":"independent"}},"layer":[
 {"data":{"name":"dev"},"transform":[{"filter":"datum.p==7"}],"mark":{"type":"line","color":"black","strokeWidth":1.3},"encoding":{
  "x":{"field":"t","type":"temporal","scale":{"nice":false,"domain":[{"year":2018,"month":7,"date":16},{"year":2018,"month":8,"date":12,"hours":2}]},"axis":{"values":[{"year":2018,"month":7,"date":16},{"year":2018,"month":7,"date":23},{"year":2018,"month":7,"date":30},{"year":2018,"month":8,"date":6}],"format":"%b %d","title":"2018"}},
  "y":{"field":"v","type":"quantitative","scale":{"nice":false,"zero":false,"domain":[-1.03,1.25]},"axis":{"values":[-1,0,1],"labelExpr":"'' + datum.value","title":["Tidal Station","Deviation (m)"]}}}},
 {"data":{"name":"trend"},"transform":[{"filter":"datum.p==7"}],"mark":{"type":"line","color":"#ff1a1a"},"encoding":{"x":{"field":"t","type":"temporal","axis":{"orient":"bottom","labels":false,"ticks":false,"domain":false,"grid":false,"title":"Deployment Dates","titleAnchor":"middle","titlePadding":33,"titleFontSize":20}},"y":{"field":"v","type":"quantitative"}}},
 {"data":{"name":"labels"},"transform":[{"filter":"datum.p==7"}],"mark":{"type":"text"},"encoding":{"x":{"datum":{"year":2018,"month":7,"date":16,"hours":9},"type":"temporal","axis":null},"y":{"datum":-0.82,"type":"quantitative"},"text":{"field":"label"}}}
]},
{"width":303,"height":142,"title":"Deployment 9","resolve":{"axis":{"x":"independent"}},"layer":[
 {"data":{"name":"dev"},"transform":[{"filter":"datum.p==8"}],"mark":{"type":"line","color":"black","strokeWidth":1.3},"encoding":{
  "x":{"field":"t","type":"temporal","scale":{"nice":false,"domain":[{"year":2018,"month":8,"date":10},{"year":2018,"month":9,"date":3,"hours":2}]},"axis":{"values":[{"year":2018,"month":8,"date":10},{"year":2018,"month":8,"date":16},{"year":2018,"month":8,"date":22},{"year":2018,"month":8,"date":28},{"year":2018,"month":9,"date":3}],"format":"%b %d","title":"2018"}},
  "y":{"field":"v","type":"quantitative","scale":{"nice":false,"zero":false,"domain":[-1.03,1.25]},"axis":{"values":[-1,0,1],"labelExpr":"'' + datum.value","title":null}}}},
 {"data":{"name":"trend"},"transform":[{"filter":"datum.p==8"}],"mark":{"type":"line","color":"#ff1a1a"},"encoding":{"x":{"field":"t","type":"temporal","axis":{"orient":"bottom","labels":false,"ticks":false,"domain":false,"grid":false,"title":"Deployment Dates","titleAnchor":"middle","titlePadding":33,"titleFontSize":20}},"y":{"field":"v","type":"quantitative"}}},
 {"data":{"name":"labels"},"transform":[{"filter":"datum.p==8"}],"mark":{"type":"text"},"encoding":{"x":{"datum":{"year":2018,"month":8,"date":10,"hours":8},"type":"temporal","axis":null},"y":{"datum":-0.82,"type":"quantitative"},"text":{"field":"label"}}}
]},
{"width":303,"height":142,"title":"Deployment 10","resolve":{"axis":{"x":"independent"}},"layer":[
 {"data":{"name":"dev"},"transform":[{"filter":"datum.p==9"}],"mark":{"type":"line","color":"black","strokeWidth":1.3},"encoding":{
  "x":{"field":"t","type":"temporal","scale":{"nice":false,"domain":[{"year":2018,"month":8,"date":31},{"year":2018,"month":9,"date":21,"hours":3}]},"axis":{"values":[{"year":2018,"month":8,"date":31},{"year":2018,"month":9,"date":6},{"year":2018,"month":9,"date":12},{"year":2018,"month":9,"date":18}],"format":"%b %d","title":"2018"}},
  "y":{"field":"v","type":"quantitative","scale":{"nice":false,"zero":false,"domain":[-1.03,1.25]},"axis":{"values":[-1,0,1],"labelExpr":"'' + datum.value","title":null}}}},
 {"data":{"name":"trend"},"transform":[{"filter":"datum.p==9"}],"mark":{"type":"line","color":"#ff1a1a"},"encoding":{"x":{"field":"t","type":"temporal","axis":{"orient":"bottom","labels":false,"ticks":false,"domain":false,"grid":false,"title":"Deployment Dates","titleAnchor":"middle","titlePadding":33,"titleFontSize":20}},"y":{"field":"v","type":"quantitative"}}},
 {"data":{"name":"labels"},"transform":[{"filter":"datum.p==9"}],"mark":{"type":"text"},"encoding":{"x":{"datum":{"year":2018,"month":8,"date":31,"hours":7},"type":"temporal","axis":null},"y":{"datum":-0.82,"type":"quantitative"},"text":{"field":"label"}}}
]}
]
}
